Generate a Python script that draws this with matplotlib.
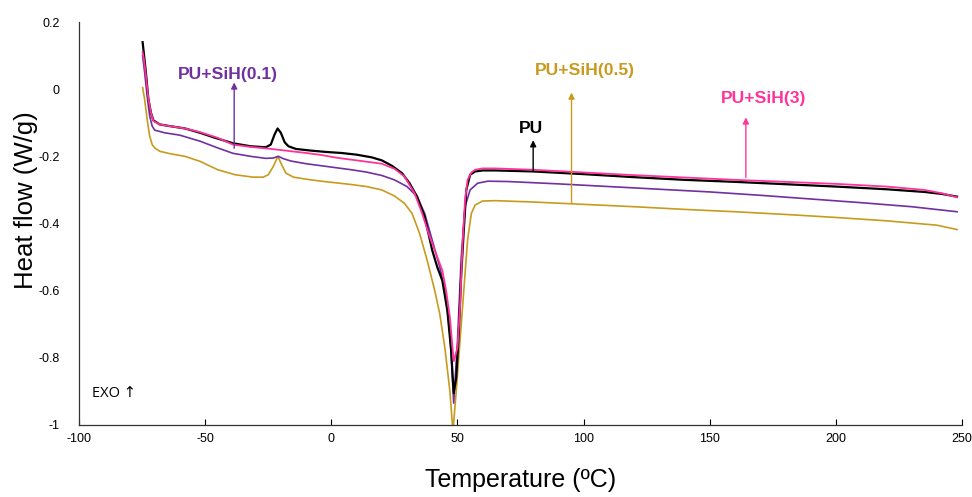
import matplotlib
matplotlib.use('Agg')
import matplotlib.pyplot as plt

plt.rcParams['font.family'] = ['Liberation Sans', 'DejaVu Sans']
plt.rcParams['axes.unicode_minus'] = False

# DSC curves (temperature in ºC, heat flow in W/g)
pu_t = [-74.8, -74.5, -73.5, -72.5, -71.5, -70.5, -68, -64, -58, -52, -46, -39, -32, -26, -24,
        -22.5, -21.3, -20, -18.5, -17, -14, -8, -2, 4, 10, 16, 20, 24, 28, 31, 34, 37, 40, 42,
        44, 46, 47.5, 48.5, 49.5, 50.5, 51.5, 52.5, 53.5, 55, 57, 60, 65, 80, 100, 120, 140,
        160, 180, 200, 220, 235, 242, 248]
pu_hf = [0.14, 0.12, 0.05, -0.03, -0.07, -0.093, -0.105, -0.11, -0.117, -0.13, -0.145, -0.161,
         -0.17, -0.173, -0.165, -0.135, -0.117, -0.13, -0.158, -0.17, -0.178, -0.183, -0.187,
         -0.19, -0.195, -0.203, -0.212, -0.228, -0.25, -0.28, -0.32, -0.38, -0.48, -0.53,
         -0.57, -0.66, -0.78, -0.905, -0.86, -0.73, -0.55, -0.42, -0.3, -0.255, -0.245,
         -0.242, -0.242, -0.245, -0.253, -0.262, -0.27, -0.276, -0.283, -0.29, -0.298,
         -0.306, -0.312, -0.32]

sih01_t = [-74.8, -74, -73, -72, -71, -70, -66, -60, -52, -45, -39, -32, -26, -23, -21, -19,
           -16, -10, -4, 2, 8, 14, 20, 25, 30, 34, 37, 40, 43, 45, 47, 48.5, 50, 51.5, 53, 55,
           58, 62, 70, 90, 110, 130, 150, 170, 190, 210, 230, 248]
sih01_hf = [0.1, 0.05, -0.02, -0.08, -0.11, -0.122, -0.13, -0.137, -0.155, -0.175, -0.191,
            -0.2, -0.206, -0.205, -0.2, -0.207, -0.214, -0.222, -0.228, -0.234, -0.24, -0.247,
            -0.257, -0.27, -0.29, -0.32, -0.37, -0.45, -0.53, -0.6, -0.72, -0.935, -0.75,
            -0.5, -0.35, -0.3, -0.28, -0.274, -0.275, -0.282, -0.29, -0.298, -0.306, -0.316,
            -0.327, -0.338, -0.35, -0.365]

sih05_t = [-74.8, -74, -73, -72, -71, -70, -68, -64, -58, -52, -45, -38, -31, -27, -25, -23,
           -21.2, -19.5, -18, -15, -10, -4, 2, 8, 14, 20, 25, 29, 32, 35, 38, 41, 43, 45, 47,
           48.2, 49.5, 51, 52.5, 54, 55.5, 57, 60, 65, 80, 100, 120, 140, 160, 180, 200, 220,
           240, 248]
sih05_hf = [0.005, -0.03, -0.09, -0.14, -0.165, -0.175, -0.185, -0.192, -0.2, -0.215, -0.24,
            -0.255, -0.262, -0.262, -0.255, -0.23, -0.2, -0.228, -0.25, -0.262, -0.268,
            -0.274, -0.279, -0.284, -0.29, -0.3, -0.318, -0.34, -0.37, -0.43, -0.51, -0.6,
            -0.67, -0.77, -0.9, -1.02, -0.9, -0.75, -0.6, -0.45, -0.37, -0.345, -0.333,
            -0.332, -0.336, -0.343, -0.35, -0.358, -0.365, -0.373, -0.382, -0.392, -0.405,
            -0.418]

sih3_t = [-74.8, -74.3, -73.5, -72.5, -71.5, -70.5, -68, -64, -58, -52, -45, -39, -32, -25,
          -18, -10, -4, 2, 8, 14, 20, 25, 29, 33, 36, 39, 42, 44, 45.5, 47, 48.5, 50, 51, 52,
          53, 54, 55.5, 57, 60, 65, 80, 100, 120, 140, 160, 180, 200, 220, 235, 242, 248]
sih3_hf = [0.11, 0.09, 0.04, -0.03, -0.07, -0.095, -0.105, -0.11, -0.117, -0.128, -0.145,
           -0.165, -0.172, -0.177, -0.183, -0.19, -0.196, -0.204, -0.21, -0.216, -0.222,
           -0.237, -0.26, -0.31, -0.37, -0.44, -0.5, -0.54, -0.6, -0.68, -0.81, -0.77, -0.65,
           -0.46, -0.33, -0.27, -0.248, -0.24, -0.236, -0.236, -0.24, -0.248, -0.256, -0.263,
           -0.27, -0.276, -0.282, -0.29, -0.3, -0.31, -0.322]

black = '#000000'
purple = '#7030A0'
gold = '#C89B1E'
pink = '#FF3399'

fig = plt.figure(figsize=(9.72, 4.97), dpi=100)
ax = fig.add_axes([0.0813, 0.1449, 0.9085, 0.8108])

ax.plot(sih05_t, sih05_hf, color=gold, lw=1.2)
ax.plot(sih01_t, sih01_hf, color=purple, lw=1.2)
ax.plot(pu_t, pu_hf, color=black, lw=1.6)
ax.plot(sih3_t, sih3_hf, color=pink, lw=1.3)

ax.set_xlim(-100, 250)
ax.set_ylim(-1, 0.2)
ax.set_xticks(range(-100, 251, 50))
ax.set_yticks([0.2, 0, -0.2, -0.4, -0.6, -0.8, -1])
ax.set_yticklabels(['0.2', '0', '-0.2', '-0.4', '-0.6', '-0.8', '-1'])
ax.tick_params(axis='x', direction='in', length=4, width=0.8, labelsize=9, pad=6)
ax.tick_params(axis='y', length=0, labelsize=9, pad=14)
for side in ['top', 'right']:
    ax.spines[side].set_visible(False)
for side in ['left', 'bottom']:
    ax.spines[side].set_linewidth(0.9)
    ax.spines[side].set_color('#333333')

ax.set_xlabel('Temperature (ºC)', fontsize=18, labelpad=16)
ax.set_ylabel('Heat flow (W/g)', fontsize=18.5)
ax.yaxis.set_label_coords(-0.047, 0.558)

# labels with arrows
def label(text, color, tx, ty, ax_x, y0, y1):
    ax.annotate('', xy=(ax_x, y1), xytext=(ax_x, y0),
                arrowprops=dict(arrowstyle='-|>', color=color, lw=1, mutation_scale=9,
                                shrinkA=0, shrinkB=0))
    ax.text(tx, ty, text, color=color, fontsize=12.6, fontweight='bold',
            ha='center', va='center')

label('PU+SiH(0.1)', purple, -41, 0.045, -38.5, -0.176, 0.02)
label('PU+SiH(0.5)', gold, 100.5, 0.057, 95.2, -0.34, -0.01)
label('PU', black, 79, -0.116, 80, -0.245, -0.152)
label('PU+SiH(3)', pink, 171.5, -0.027, 164.3, -0.263, -0.084)

ax.text(-95, -0.905, 'EXO ↑', fontsize=10.5, family=['Open Sans', 'DejaVu Sans'],
        ha='left', va='center')

fig.savefig('out.png', dpi=100)
